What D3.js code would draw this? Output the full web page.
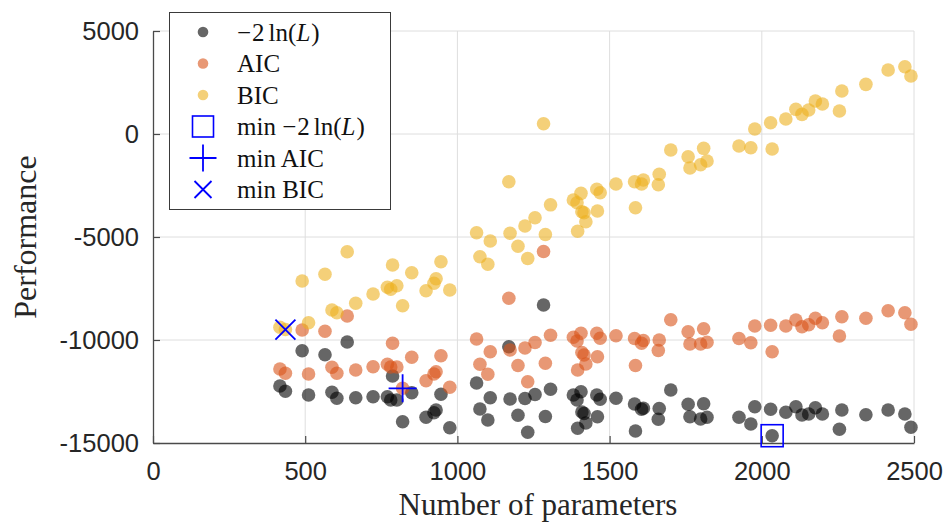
<!DOCTYPE html>
<html>
<head>
<meta charset="utf-8">
<script src="https://cdn.jsdelivr.net/npm/d3@7/dist/d3.min.js"></script>
<style>
  html, body { margin: 0; padding: 0; background: #fff; }
  svg { display: block; }
</style>
</head>
<body>
<svg id="chart" width="947" height="522"></svg>
<script>
// Model size (number of parameters) for each fitted model
const params = [
  417, 435, 490, 511, 565, 588, 604, 638, 666, 723,
  787, 770, 781, 801, 850, 820, 897, 923, 930, 946,
  975, 1063, 1074, 1100, 1108, 1169, 1173, 1199, 1222, 1231,
  1255, 1283, 1289, 1306, 1381, 1406, 1393, 1409, 1416, 1395,
  1422, 1458, 1469, 1460, 1521, 1582, 1611, 1605, 1585, 1663,
  1660, 1701, 1758, 1809, 1764, 1799, 1820, 1925, 1964, 1977,
  2029, 2034, 2079, 2112, 2132, 2154, 2176, 2199, 2263, 2255,
  2342, 2415, 2470, 2490
];

// -2 ln(L) for each model
const negLogLik = [
  -12233, -12490, -10520, -12670, -10714, -12539, -12830, -10097, -12801, -12753,
  -11748, -12753, -12913, -12913, -12558, -13966, -13753, -13529, -13398, -12636,
  -14257, -12088, -13350, -13884, -12801, -10326, -12864, -13655, -12840, -14481,
  -12646, -8301, -13714, -12393, -12670, -12510, -12913, -13495, -13568, -14286,
  -14029, -12670, -12879, -13723, -12830, -13107, -13316, -13364, -14418, -13325,
  -13850, -12427, -13122, -13097, -13723, -13835, -13753, -13748, -14078, -13238,
  -13364, -14646, -13510, -13238, -13641, -13592, -13287, -13592, -13398, -14335,
  -13626, -13398, -13592, -14238
];

// Akaike information criterion for each model
const aic = [
  -11408, -11617, -9515, -11651, -9578, -11326, -11617, -8835, -11457, -11296,
  -10161, -11180, -11311, -11311, -10840, -12345, -11976, -11651, -11539, -10762,
  -12296, -9952, -11180, -11665, -10568, -7976, -10486, -11238, -10389, -12024,
  -10122, -5705, -11131, -9772, -9869, -9675, -10049, -10607, -10728, -11457,
  -11165, -9675, -9918, -10811, -9792, -9928, -10025, -10161, -11238, -10000,
  -10510, -9015, -9597, -9452, -10195, -10195, -10107, -9928, -10131, -9321,
  -9287, -10568, -9321, -9030, -9355, -9258, -8947, -9161, -8869, -9806,
  -8947, -8578, -8675, -9238
];

// Bayesian information criterion for each model
const bic = [
  -9384, -9491, -7137, -9161, -6811, -8544, -8675, -5714, -8219, -7768,
  -6360, -7442, -7539, -7365, -6734, -8335, -7607, -7248, -7025, -6200,
  -7573, -4792, -5957, -6326, -5195, -2316, -4821, -5452, -4467, -6044,
  -4064, 499, -4879, -3438, -3205, -2880, -3336, -3773, -3821, -4724,
  -4258, -2685, -2850, -3739, -2428, -2316, -2234, -2428, -3579, -1957,
  -2462, -778, -1103, -695, -1651, -1491, -1312, -584, -666, 242,
  547, -729, 727, 1198, 955, 1164, 1601, 1455, 2086, 1115,
  2411, 3105, 3266, 2814
];

const xTicks = [0, 500, 1000, 1500, 2000, 2500];
const yTicks = [-15000, -10000, -5000, 0, 5000];

const seriesColors = ["#000000", "#D95319", "#EDB120"];
const pointAlpha = 0.6;
const markerBlue = "#0000ff";

const svg = d3.select("#chart");

const x = d3.scaleLinear().domain([0, 2500]).range([153, 914]);
const y = d3.scaleLinear().domain([-15000, 5000]).range([443, 31]);

// grid lines
const grid = svg.append("g").attr("class", "grid");
grid.selectAll("line.gx")
  .data(xTicks.filter(d => d > 0))
  .join("line")
  .attr("x1", d => x(d)).attr("x2", d => x(d))
  .attr("y1", y(-15000)).attr("y2", y(5000))
  .attr("stroke", "#dedede").attr("stroke-width", 1);
grid.selectAll("line.gy")
  .data(yTicks.filter(d => d > -15000))
  .join("line")
  .attr("x1", x(0)).attr("x2", x(2500))
  .attr("y1", d => y(d)).attr("y2", d => y(d))
  .attr("stroke", "#dedede").attr("stroke-width", 1);

// axes
const tickFont = "'Liberation Sans', Arial, Helvetica, sans-serif";
const xAxis = svg.append("g")
  .attr("transform", `translate(0,${y(-15000)})`)
  .call(d3.axisBottom(x).tickValues(xTicks).tickFormat(d3.format("d"))
    .tickSizeInner(-7).tickSizeOuter(0).tickPadding(19));
const yAxis = svg.append("g")
  .attr("transform", `translate(${x(0)},0)`)
  .call(d3.axisLeft(y).tickValues(yTicks).tickFormat(d => String(d))
    .tickSizeInner(-7).tickSizeOuter(0).tickPadding(14));

[xAxis, yAxis].forEach(g => {
  g.select(".domain").attr("stroke", "#4a4a4a").attr("stroke-width", 1.3);
  g.selectAll(".tick line").attr("stroke", "#4a4a4a").attr("stroke-width", 1.2);
  g.selectAll(".tick text")
    .attr("fill", "#262626")
    .style("font-family", tickFont)
    .style("font-size", "25.5px");
});

// axis titles
const serif = "'Liberation Serif', 'Times New Roman', serif";
svg.append("text")
  .attr("x", 538).attr("y", 515)
  .attr("text-anchor", "middle")
  .style("font-family", serif).style("font-size", "31px")
  .attr("fill", "#262626")
  .text("Number of parameters");
svg.append("text")
  .attr("transform", "translate(36,237) rotate(-90)")
  .attr("text-anchor", "middle")
  .style("font-family", serif).style("font-size", "32px")
  .attr("fill", "#262626")
  .text("Performance");

// scatter series
const series = [negLogLik, aic, bic];
const pts = svg.append("g").attr("class", "points");
series.forEach((vals, si) => {
  pts.append("g")
    .selectAll("circle")
    .data(params.map((p, i) => ({ p, v: vals[i] })))
    .join("circle")
    .attr("cx", d => x(d.p))
    .attr("cy", d => y(d.v))
    .attr("r", 6.8)
    .attr("fill", seriesColors[si])
    .attr("fill-opacity", pointAlpha);
});

// minimum markers
const iMinL = d3.minIndex(negLogLik);
const iMinA = d3.minIndex(aic);
const iMinB = d3.minIndex(bic);

function squareMark(g, cx, cy, s) {
  g.append("rect")
    .attr("x", cx - s / 2).attr("y", cy - s / 2)
    .attr("width", s).attr("height", s)
    .attr("fill", "none").attr("stroke", markerBlue).attr("stroke-width", 1.6);
}
function plusMark(g, cx, cy, h) {
  g.append("path")
    .attr("d", `M${cx - h},${cy}H${cx + h}M${cx},${cy - h}V${cy + h}`)
    .attr("stroke", markerBlue).attr("stroke-width", 1.8).attr("fill", "none");
}
function crossMark(g, cx, cy, h) {
  g.append("path")
    .attr("d", `M${cx - h},${cy - h}L${cx + h},${cy + h}M${cx - h},${cy + h}L${cx + h},${cy - h}`)
    .attr("stroke", markerBlue).attr("stroke-width", 1.8).attr("fill", "none");
}

const marks = svg.append("g").attr("class", "minima");
squareMark(marks, x(params[iMinL]), y(negLogLik[iMinL]), 22);
plusMark(marks, x(params[iMinA]), y(aic[iMinA]), 14);
crossMark(marks, x(params[iMinB]), y(bic[iMinB]), 10);

// legend
const legend = svg.append("g").attr("class", "legend");
legend.append("rect")
  .attr("x", 169.5).attr("y", 12.5)
  .attr("width", 221).attr("height", 197)
  .attr("fill", "#fff").attr("stroke", "#3a3a3a").attr("stroke-width", 1);

const rowY = [32, 63.5, 95, 126.5, 158, 189.5];
const mx = 203, tx = 237;

for (let i = 0; i < 3; i++) {
  legend.append("circle")
    .attr("cx", mx).attr("cy", rowY[i]).attr("r", 5.3)
    .attr("fill", seriesColors[i]).attr("fill-opacity", pointAlpha);
}
squareMark(legend, mx, rowY[3], 21);
plusMark(legend, mx, rowY[4], 13.5);
crossMark(legend, mx, rowY[5], 8.5);

function legendText(row) {
  return legend.append("text")
    .attr("x", tx).attr("y", rowY[row]).attr("dy", "0.34em")
    .style("font-family", serif).style("font-size", "25px")
    .attr("fill", "#111");
}
function negLogLikLabel(t, prefix) {
  if (prefix) t.append("tspan").text(prefix + "\u00a0");
  t.append("tspan").text("\u2212");
  t.append("tspan").attr("dx", 1).text("2");
  t.append("tspan").attr("dx", 4).text("ln(");
  t.append("tspan").style("font-style", "italic").text("L");
  t.append("tspan").attr("dx", 1).text(")");
}
negLogLikLabel(legendText(0), null);
legendText(1).text("AIC");
legendText(2).text("BIC");
negLogLikLabel(legendText(3), "min");
legendText(4).text("min AIC");
legendText(5).text("min BIC");
</script>
</body>
</html>
